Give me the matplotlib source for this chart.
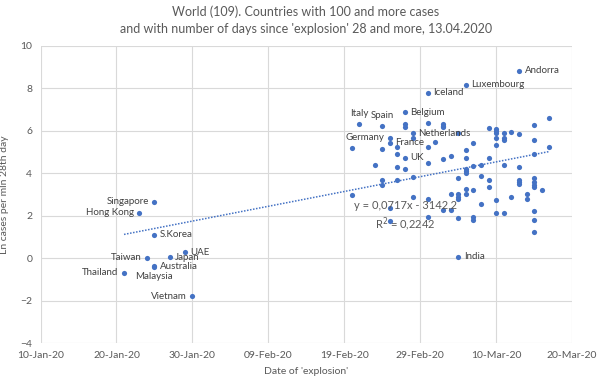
import numpy as np
import pandas as pd
import matplotlib
matplotlib.use('Agg')
import matplotlib.pyplot as plt
import matplotlib.dates as mdates

# Страны с подписями: дата "взрыва" и ln(случаев на млн) на 28-й день
named_countries = ['Thailand', 'Hong Kong', 'Taiwan', 'Singapore', 'S.Korea', 'Australia',
                   'Malaysia', 'Japan', 'UAE', 'Vietnam', 'Germany', 'Italy', 'Spain',
                   'France', 'Belgium', 'UK', 'Netherlands', 'Iceland', 'Luxembourg',
                   'India', 'Andorra']
named_dates = ['2020-01-21', '2020-01-23', '2020-01-24', '2020-01-25', '2020-01-25', '2020-01-25',
               '2020-01-25', '2020-01-27', '2020-01-29', '2020-01-30', '2020-02-25', '2020-02-21',
               '2020-02-24', '2020-02-25', '2020-02-27', '2020-02-27', '2020-02-28', '2020-03-01',
               '2020-03-06', '2020-03-05', '2020-03-13']
named_values = [-0.69, 2.13, 0.01, 2.65, 1.11, -0.38,
                -0.40, 0.05, 0.28, -1.79, 5.68, 6.32, 6.24,
                5.44, 6.87, 4.74, 5.88, 7.80,
                8.17, 0.06, 8.83]

# Остальные страны без подписей
other_dates = (['2020-02-20'] * 2 + ['2020-02-23'] * 1 + ['2020-02-24'] * 3 + ['2020-02-25'] * 2 +
               ['2020-02-26'] * 4 + ['2020-02-27'] * 3 + ['2020-02-28'] * 3 + ['2020-03-01'] * 5 +
               ['2020-03-02'] * 1 + ['2020-03-03'] * 5 + ['2020-03-04'] * 3 + ['2020-03-05'] * 6 +
               ['2020-03-06'] * 7 + ['2020-03-07'] * 5 + ['2020-03-08'] * 3 + ['2020-03-09'] * 4 +
               ['2020-03-10'] * 7 + ['2020-03-11'] * 5 + ['2020-03-12'] * 2 + ['2020-03-13'] * 5 +
               ['2020-03-14'] * 2 + ['2020-03-15'] * 10 + ['2020-03-16'] * 1 + ['2020-03-17'] * 2)
other_values = [5.21, 2.96,
                4.41,
                5.16, 3.70, 3.47,
                2.37, 1.74,
                5.24, 4.89, 4.30, 3.67,
                6.34, 6.18, 4.22,
                5.68, 3.83, 2.89,
                6.39, 5.24, 4.50, 2.78, 1.94,
                5.47,
                6.34, 6.24, 6.16, 4.69, 2.29,
                4.80, 3.04, 2.26,
                5.91, 3.78, 3.01, 2.89, 2.78, 1.87,
                5.08, 4.72, 4.22, 4.11, 4.03, 3.28, 3.01,
                5.44, 4.33, 3.23, 1.92, 1.82,
                4.38, 3.86, 2.54,
                6.13, 4.72, 3.70, 3.33,
                6.10, 5.99, 5.91, 5.68, 5.35, 2.76, 2.13,
                5.91, 5.68, 5.59, 4.38, 2.13,
                5.96, 2.86,
                5.84, 4.30, 3.67, 3.59, 3.48,
                3.04, 2.81,
                6.26, 5.55, 4.93, 3.78, 3.59, 3.47, 3.36, 2.21, 1.79, 1.24,
                3.20,
                6.62, 5.24]

x_ticks = pd.date_range('2020-01-10', '2020-03-20', freq='10D')
y_ticks = [-4, -2, 0, 2, 4, 6, 8, 10]

# Положение подписей (стиль)
label_side = {'Thailand': 'left', 'Hong Kong': 'left', 'Taiwan': 'left', 'Singapore': 'left',
              'S.Korea': 'right', 'Australia': 'right', 'Malaysia': 'below', 'Japan': 'right',
              'UAE': 'right', 'Vietnam': 'left', 'Germany': 'left', 'Italy': 'above',
              'Spain': 'above', 'France': 'right', 'Belgium': 'right', 'UK': 'right',
              'Netherlands': 'right', 'Iceland': 'right', 'Luxembourg': 'right',
              'India': 'right', 'Andorra': 'right'}

plt.rcParams['font.family'] = ['Lato', 'DejaVu Sans']
blue = '#4472C4'
gray = '#595959'

fig = plt.figure(figsize=(6, 3.89), dpi=100)
ax = fig.add_axes([0.0675, 0.118, 0.886, 0.764])

xn = mdates.date2num(pd.to_datetime(named_dates))
xo = mdates.date2num(pd.to_datetime(other_dates))
all_x = np.concatenate([xn, xo])
all_y = np.concatenate([named_values, other_values])

ax.scatter(xo, other_values, s=14, color=blue, zorder=3, linewidths=0)
ax.scatter(xn, named_values, s=14, color=blue, zorder=3, linewidths=0)

# Линейный тренд
k, b = np.polyfit(all_x, all_y, 1)
tx = np.array([all_x.min(), all_x.max()])
ax.plot(tx, k * tx + b, linestyle=(0, (1, 1)), color=blue, linewidth=1.1, zorder=2)

offsets = {'left': ((-4, 0), 'right', 'center'), 'right': ((4, 0), 'left', 'center'),
           'above': ((0, 4), 'center', 'bottom'), 'below': ((0, -4), 'center', 'top')}
for name, x, y in zip(named_countries, xn, named_values):
    off, ha, va = offsets[label_side[name]]
    ax.annotate(name, (x, y), xytext=off, textcoords='offset points',
                ha=ha, va=va, fontsize=7, color='#404040')

ax.text(mdates.date2num(pd.Timestamp('2020-02-27')), 1.95, 'y = 0,0717x - 3142,2\nR$^2$ = 0,2242',
        ha='center', va='center', fontsize=8, color=gray, linespacing=1.3)

ax.set_xlim(mdates.date2num(x_ticks[0]), mdates.date2num(x_ticks[-1]))
ax.set_ylim(-4, 10)
ax.set_xticks(mdates.date2num(x_ticks))
ax.set_xticklabels([d.strftime('%d-%b-%y') for d in x_ticks])
ax.set_yticks(y_ticks)
ax.tick_params(length=0, labelsize=7.5, labelcolor=gray, pad=6)
ax.grid(True, color='#d9d9d9', linewidth=0.8)
ax.set_axisbelow(True)
for s in ax.spines.values():
    s.set_visible(False)

ax.set_xlabel("Date of 'explosion'", fontsize=7.5, color=gray, labelpad=5)
ax.set_ylabel('Ln cases per mln 28th day', fontsize=7.5, color=gray, labelpad=8)
fig.suptitle("World (109). Countries with 100 and more cases\n"
             "and with number of days since 'explosion' 28 and more, 13.04.2020",
             x=0.51, y=0.985, fontsize=9, color=gray, linespacing=1.5)

fig.savefig('out.png', dpi=100)
